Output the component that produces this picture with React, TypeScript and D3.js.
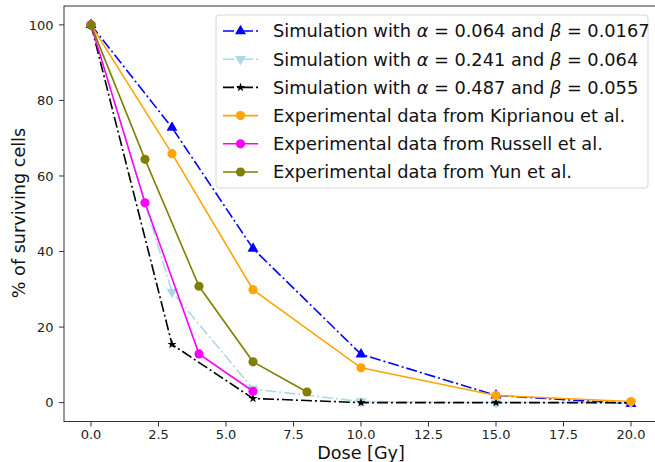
import React from "react";
import * as d3 from "d3";

// doses (Gy) and surviving fraction (%)
const simDoses = [0, 3, 6, 10, 15, 20];
const simA = [100, 72.8, 40.8, 12.8, 1.9, -0.3];
const simB = [100, 29.3, 3.6, 0.3, 0, 0];
const simC = [100, 15.4, 1.1, 0, 0, 0];

const kipDoses = [0, 3, 6, 10, 15, 20];
const kipVals = [100, 65.9, 29.9, 9.2, 1.9, 0.3];

const rusDoses = [0, 2, 4, 6];
const rusVals = [100, 52.9, 12.9, 3.0];

const yunDoses = [0, 2, 4, 6, 8];
const yunVals = [100, 64.4, 30.8, 10.8, 2.8];

const xTicks = [0, 2.5, 5, 7.5, 10, 12.5, 15, 17.5, 20];
const yTicks = [0, 20, 40, 60, 80, 100];

type Series = {
  pre: string;
  a?: string;
  b?: string;
  label?: string;
  doses: number[];
  vals: number[];
  color: string;
  dashed: boolean;
  marker: "tri" | "triDown" | "star" | "circle";
};

const series: Series[] = [
  { pre: "Simulation with ", a: "0.064", b: "0.0167", doses: simDoses, vals: simA, color: "#0000ff", dashed: true, marker: "tri" },
  { pre: "Simulation with ", a: "0.241", b: "0.064", doses: simDoses, vals: simB, color: "#add8e6", dashed: true, marker: "triDown" },
  { pre: "Simulation with ", a: "0.487", b: "0.055", doses: simDoses, vals: simC, color: "#000000", dashed: true, marker: "star" },
  { pre: "", label: "Experimental data from Kiprianou et al.", doses: kipDoses, vals: kipVals, color: "#ffa500", dashed: false, marker: "circle" },
  { pre: "", label: "Experimental data from Russell et al.", doses: rusDoses, vals: rusVals, color: "#ff00ff", dashed: false, marker: "circle" },
  { pre: "", label: "Experimental data from Yun et al.", doses: yunDoses, vals: yunVals, color: "#808000", dashed: false, marker: "circle" },
];

const W = 655;
const H = 462;
const font = "DejaVu Sans, sans-serif";
const dash = "11,3,2,3";

const markerPath = (m: Series["marker"]) => {
  if (m === "tri" || m === "triDown") return d3.symbol().type(d3.symbolTriangle).size(52)()!;
  if (m === "star") return d3.symbol().type(d3.symbolStar).size(26)()!;
  return d3.symbol().type(d3.symbolCircle).size(66)()!;
};

const Marker = ({ s, x, y }: { s: Series; x: number; y: number }) => (
  <path
    d={markerPath(s.marker)}
    transform={`translate(${x},${y})${s.marker === "triDown" ? " rotate(180)" : ""}`}
    fill={s.color}
  />
);

export default function App() {
  const x = d3.scaleLinear().domain([-1, 21]).range([64, 658]);
  const y = d3.scaleLinear().domain([-5, 105]).range([421.5, 6]);
  const line = d3
    .line<[number, number]>()
    .x((d) => x(d[0]))
    .y((d) => y(d[1]));

  const legX = 216;
  const legY = 15;
  const rowH = 28.2;

  return (
    <svg width={W} height={H} style={{ position: "absolute", left: 0, top: 0 }} fontFamily={font}>
      <rect width={W} height={H} fill="#fff" />
      {/* series */}
      {series.map((s, i) => (
        <g key={i}>
          <path
            d={line(s.doses.map((d, j) => [d, s.vals[j]] as [number, number]))!}
            fill="none"
            stroke={s.color}
            strokeWidth={1.6}
            strokeDasharray={s.dashed ? dash : undefined}
          />
          {s.doses.map((d, j) => (
            <Marker key={j} s={s} x={x(d)} y={y(s.vals[j])} />
          ))}
        </g>
      ))}
      {/* frame */}
      <rect x={64} y={6} width={594} height={415.5} fill="none" stroke="#333" strokeWidth={1} />
      {/* x axis */}
      {xTicks.map((t) => (
        <g key={t} transform={`translate(${x(t)},421.5)`}>
          <line y2={5} stroke="#333" strokeWidth={1} />
          <text y={17} textAnchor="middle" fontSize={13} fill="#222">
            {t.toFixed(1)}
          </text>
        </g>
      ))}
      {yTicks.map((t) => (
        <g key={t} transform={`translate(64,${y(t)})`}>
          <line x2={-5} stroke="#333" strokeWidth={1} />
          <text x={-10.5} dy="0.36em" textAnchor="end" fontSize={13} fill="#222">
            {t}
          </text>
        </g>
      ))}
      <text x={x(10)} y={459} textAnchor="middle" fontSize={17.6} fill="#111">
        Dose [Gy]
      </text>
      <text transform="translate(24.5,213) rotate(-90)" textAnchor="middle" fontSize={17.6} fill="#111">
        % of surviving cells
      </text>
      {/* legend */}
      <rect x={legX} y={legY} width={432} height={173} rx={3} fill="#fff" fillOpacity={0.8} stroke="#ccc" strokeWidth={0.8} />
      {series.map((s, i) => {
        const cy = legY + 16 + i * rowH;
        return (
          <g key={i}>
            <line
              x1={223}
              x2={258}
              y1={cy}
              y2={cy}
              stroke={s.color}
              strokeWidth={1.6}
              strokeDasharray={s.dashed ? dash : undefined}
            />
            <Marker s={s} x={240.5} y={cy} />
            <text x={273} y={cy} dy="0.36em" fontSize={17.8} fill="#111">
              {s.label ?? (
                <>
                  {s.pre}
                  <tspan fontStyle="italic">α</tspan>
                  <tspan dx={5.5}>=</tspan>
                  <tspan dx={5.5}>{s.a + " and "}</tspan>
                  <tspan fontStyle="italic">β</tspan>
                  <tspan dx={5.5}>=</tspan>
                  <tspan dx={5.5}>{s.b}</tspan>
                </>
              )}
            </text>
          </g>
        );
      })}
    </svg>
  );
}
